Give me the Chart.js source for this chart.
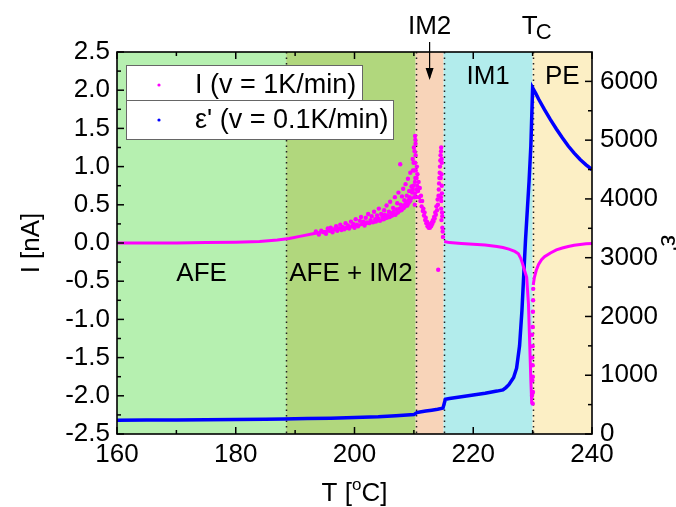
<!DOCTYPE html>
<html>
<head>
<meta charset="utf-8">
<script src="https://cdn.jsdelivr.net/npm/chart.js@4"></script>
<style>
  html, body { margin: 0; padding: 0; background: #fff; }
</style>
</head>
<body>
<canvas id="chart" width="676" height="507"></canvas>
<script>
// axis ticks
var tempTicks = [160, 180, 200, 220, 240];
var currentTicks = [-2.5, -2.0, -1.5, -1.0, -0.5, 0.0, 0.5, 1.0, 1.5, 2.0, 2.5];
var epsTicks = [0, 1000, 2000, 3000, 4000, 5000, 6000];

// phase regions (temperature boundaries) and names
var regionEdges = [160, 188.5, 210.3, 215, 230, 240];
var regionNames = ['AFE', 'AFE + IM2', 'IM2', 'IM1', 'PE'];

var seriesLabels = ['I (v = 1K/min)', "\u03b5' (v = 0.1K/min)"];

// dielectric permittivity eps' (right axis)
var epsT = [160, 165, 170, 175, 180, 185, 188, 192, 196, 200, 204, 207, 210, 210.5, 211, 212, 213, 214, 214.9, 215.3, 216, 218, 220, 222, 224, 225, 225.5, 226, 226.8, 227.3, 227.8, 228.2, 228.5, 228.8, 229.1, 229.4, 229.7, 230, 230.5, 231, 232, 233, 234, 235, 236, 237, 238, 239, 240];
var epsV = [235, 237, 240, 243, 247, 252, 256, 262, 270, 280, 292, 310, 330, 365, 375, 390, 405, 420, 440, 590, 605, 635, 665, 695, 730, 750, 790, 840, 960, 1120, 1500, 2100, 2700, 3300, 3800, 4300, 4900, 5890, 5800, 5700, 5520, 5350, 5190, 5040, 4900, 4780, 4670, 4580, 4500];

// pyroelectric current I, smooth part (null = gap)
var iT = [160, 170, 175, 180, 184, 187, 189, 191, 193, 195, 197, 199, 201, 203, 205, 206, 207, 208, 209, 209.6, 209.7,
          215.1, 216, 218, 220, 222, 224, 225, 226, 227, 227.6, 228, 228.3, 228.6, 229.0, 229.3, 229.5, 229.7, 229.85, 229.9,
          230.1, 230.3, 230.6, 231, 231.5, 232, 233, 234, 235, 236, 237, 238, 239, 240];
var iV = [0.0, 0.0, 0.005, 0.01, 0.02, 0.04, 0.06, 0.09, 0.12, 0.15, 0.18, 0.21, 0.24, 0.27, 0.31, 0.34, 0.38, 0.43, 0.5, 0.56, null,
          0.02, 0.005, -0.005, -0.015, -0.025, -0.045, -0.06, -0.08, -0.11, -0.14, -0.2, -0.27, -0.35, -0.45, -0.8, -1.3, -1.8, -2.1, null,
          -0.55, -0.45, -0.36, -0.28, -0.22, -0.18, -0.13, -0.09, -0.065, -0.045, -0.03, -0.02, -0.01, -0.005];

// pyroelectric current I, scattered points (noisy region and the dip at Tc)
var iScatT = [193.5, 194.0, 194.4, 194.8, 195.2, 195.5, 195.8, 196.0, 196.3, 196.6, 196.9, 197.1, 197.4, 197.6, 197.8, 198.0, 198.3, 198.5, 198.7, 198.9,
              199.1, 199.4, 199.6, 199.8, 200.0, 200.2, 200.4, 200.6, 200.9, 201.1, 201.3, 201.5, 201.7, 201.9, 202.1, 202.3, 202.5, 202.7, 202.9, 203.1,
              203.3, 203.5, 203.6, 203.8, 204.0, 204.1, 204.3, 204.5, 204.7, 204.9, 205.0, 205.1, 205.3, 205.4, 205.6, 205.8, 205.9, 206.0, 206.2, 206.3,
              206.5, 206.6, 206.8, 206.9, 207.1, 207.2, 207.3, 207.4, 207.6, 207.7, 207.8, 207.9, 208.0, 208.1, 208.2, 208.3, 208.4, 208.5, 208.6, 208.7,
              208.8, 208.9, 209.0, 209.1, 209.2, 209.3, 209.4, 209.5, 209.6, 209.7, 209.75, 209.8, 209.85, 209.9, 209.95, 210.0, 210.05, 210.1, 210.12, 210.15,
              210.18, 210.2, 210.2, 210.22, 210.24, 210.25, 210.28, 210.3, 210.32, 210.35, 210.4, 210.45, 210.5, 210.55, 210.6, 210.7, 210.8, 210.9, 211.0, 211.1,
              211.2, 211.3, 211.4, 211.5, 211.6, 211.7, 211.8, 211.9, 212.0, 212.1, 212.2, 212.3, 212.4, 212.5, 212.6, 212.7, 212.8, 212.9, 213.0, 213.1,
              213.2, 213.3, 213.4, 213.5, 213.6, 213.7, 213.8, 213.9, 214.0, 214.05, 214.1, 214.15, 214.2, 214.25, 214.3, 214.35, 214.4, 214.45, 214.5, 214.52,
              214.55, 214.58, 214.6, 214.6, 214.62, 214.65, 214.65, 214.68, 214.7, 214.7, 214.72, 214.75, 214.78, 214.8, 214.85, 214.9,
              229.9, 229.9, 229.95, 229.95, 230.0, 230.0, 230.0, 230.02, 230.03, 230.05, 230.05, 230.08, 230.1];
var iScatV = [0.15, 0.11, 0.16, 0.14, 0.12, 0.19, 0.16, 0.2, 0.14, 0.18, 0.22, 0.16, 0.19, 0.24, 0.17, 0.21, 0.18, 0.26, 0.2, 0.23,
              0.19, 0.28, 0.22, 0.25, 0.2, 0.31, 0.24, 0.22, 0.29, 0.34, 0.25, 0.28, 0.23, 0.33, 0.27, 0.38, 0.26, 0.3, 0.35, 0.27,
              0.41, 0.31, 0.28, 0.36, 0.32, 0.45, 0.29, 0.38, 0.34, 0.31, 0.43, 0.37, 0.33, 0.49, 0.36, 0.41, 0.34, 0.54, 0.39, 0.36,
              0.46, 0.41, 0.6, 0.37, 0.44, 0.52, 0.4, 0.66, 0.45, 1.03, 0.5, 0.43, 0.61, 0.48, 0.71, 0.46, 0.56, 0.5, 0.77, 0.53,
              0.62, 0.49, 0.84, 0.56, 0.68, 0.6, 0.92, 0.58, 0.74, 0.66, 0.7, 1.1, 0.95, 0.75, 1.05, 1.25, 0.6, 0.95, 1.2, 0.5,
              0.8, 1.4, 0.65, 1.05, 1.35, 0.85, 1.3, 1.15, 0.95, 0.6, 0.7, 0.85, 1.0, 0.75, 0.9, 0.68, 0.8, 0.6, 0.72, 0.55,
              0.62, 0.48, 0.55, 0.42, 0.45, 0.36, 0.4, 0.3, 0.33, 0.26, 0.28, 0.22, 0.25, 0.2, 0.22, 0.2, 0.24, 0.22, 0.27, 0.25,
              0.3, 0.28, 0.34, 0.32, 0.4, 0.37, 0.48, 0.43, 0.57, 0.5, -0.35, 0.62, 0.7, 0.78, 0.85, 0.92, 1.0, 1.08, 1.15, 0.85,
              0.6, 1.2, 1.25, 0.45, 0.55, 0.9, 0.3, 1.1, 0.75, 1.05, 0.65, 0.4, 0.35, 0.2, 0.15, 0.08,
              -2.0, -1.2, -1.8, -1.5, -1.6, -1.35, -2.1, -1.1, -1.75, -0.9, -1.95, -0.75, -0.6];

function pairs(xs, ys) {
    return xs.map(function (x, i) { return { x: x, y: ys[i] }; });
}

Chart.defaults.font.family = "'Liberation Sans', Arial, sans-serif";
Chart.defaults.font.size = 26;
Chart.defaults.color = '#000';

var PINK = '#ff00ff';
var BLUE = '#0000ff';

// backgrounds, phase lines, labels, frame, ticks and legend
var decor = {
    id: 'decor',
    beforeDatasetsDraw: function (chart) {
        var ctx = chart.ctx, a = chart.chartArea, xs = chart.scales.x, ys = chart.scales.y;
        var fills = ['#b6f0b0', '#b1d77d', '#f8d4b9', '#b2ecec', '#fcefc5'];
        ctx.save();
        for (var i = 0; i < regionNames.length; i++) {
            var x0 = xs.getPixelForValue(regionEdges[i]);
            var x1 = xs.getPixelForValue(regionEdges[i + 1]);
            ctx.fillStyle = fills[i];
            ctx.fillRect(x0, a.top, x1 - x0, a.bottom - a.top);
        }
        ctx.strokeStyle = '#222';
        ctx.lineWidth = 1.5;
        ctx.setLineDash([1.5, 4]);
        for (var j = 1; j < regionEdges.length - 1; j++) {
            var px = Math.round(xs.getPixelForValue(regionEdges[j])) + 0.5;
            ctx.beginPath();
            ctx.moveTo(px, a.top);
            ctx.lineTo(px, a.bottom);
            ctx.stroke();
        }
        ctx.setLineDash([]);

        ctx.fillStyle = '#000';
        ctx.font = "26px 'Liberation Sans', Arial, sans-serif";
        ctx.textAlign = 'center';
        ctx.textBaseline = 'middle';
        function mid(k) { return xs.getPixelForValue((regionEdges[k] + regionEdges[k + 1]) / 2); }
        ctx.fillText(regionNames[0], mid(0), ys.getPixelForValue(-0.4));
        ctx.fillText(regionNames[1], mid(1), ys.getPixelForValue(-0.4));
        ctx.fillText(regionNames[3], mid(3), ys.getPixelForValue(2.17));
        ctx.fillText(regionNames[4], mid(4), ys.getPixelForValue(2.17));
        ctx.restore();
    },
    afterDraw: function (chart) {
        var ctx = chart.ctx, a = chart.chartArea;
        var xs = chart.scales.x, ys = chart.scales.y, ys1 = chart.scales.y1;
        ctx.save();
        ctx.strokeStyle = '#000';
        ctx.lineWidth = 1.5;
        function seg(x0, y0, x1, y1) {
            ctx.beginPath(); ctx.moveTo(x0, y0); ctx.lineTo(x1, y1); ctx.stroke();
        }
        // x ticks, bottom and top
        tempTicks.forEach(function (v, i) {
            var px = xs.getPixelForValue(v);
            seg(px, a.bottom, px, a.bottom - 7);
            seg(px, a.top, px, a.top + 7);
            if (i < tempTicks.length - 1) {
                var pm = xs.getPixelForValue((v + tempTicks[i + 1]) / 2);
                seg(pm, a.bottom, pm, a.bottom - 4);
                seg(pm, a.top, pm, a.top + 4);
            }
        });
        currentTicks.forEach(function (v, i) {
            var py = ys.getPixelForValue(v);
            seg(a.left, py, a.left + 7, py);
            if (i < currentTicks.length - 1) {
                var pm = ys.getPixelForValue((v + currentTicks[i + 1]) / 2);
                seg(a.left, pm, a.left + 4, pm);
            }
        });
        epsTicks.forEach(function (v, i) {
            var py = ys1.getPixelForValue(v);
            seg(a.right, py, a.right - 7, py);
            if (i < epsTicks.length - 1) {
                var pm = ys1.getPixelForValue((v + epsTicks[i + 1]) / 2);
                seg(a.right, pm, a.right - 4, pm);
            }
        });
        ctx.lineWidth = 1.6;
        ctx.strokeRect(a.left, a.top, a.right - a.left, a.bottom - a.top);

        // labels above the frame
        ctx.fillStyle = '#000';
        ctx.textBaseline = 'alphabetic';
        ctx.textAlign = 'center';
        ctx.font = "26px 'Liberation Sans', Arial, sans-serif";
        var im2x = xs.getPixelForValue((regionEdges[2] + regionEdges[3]) / 2);
        ctx.fillText(regionNames[2], im2x, 34);
        ctx.lineWidth = 1.2;
        seg(im2x, 42, im2x, 78);
        ctx.beginPath();
        ctx.moveTo(im2x - 4, 68);
        ctx.lineTo(im2x, 80);
        ctx.lineTo(im2x + 4, 68);
        ctx.fill();

        var tcx = xs.getPixelForValue(regionEdges[4]);
        ctx.textAlign = 'left';
        ctx.fillText('T', tcx - 11, 34);
        ctx.font = "22px 'Liberation Sans', Arial, sans-serif";
        ctx.fillText('C', tcx + 3, 39);

        // x axis title with superscript o
        var big = "26px 'Liberation Sans', Arial, sans-serif";
        var small = "17px 'Liberation Sans', Arial, sans-serif";
        ctx.font = big;
        var w1 = ctx.measureText('T [').width, w3 = ctx.measureText('C]').width;
        ctx.font = small;
        var w2 = ctx.measureText('o').width;
        var tx = (a.left + a.right) / 2 - (w1 + w2 + w3) / 2;
        ctx.font = big;
        ctx.fillText('T [', tx, 501);
        ctx.font = small;
        ctx.fillText('o', tx + w1, 490);
        ctx.font = big;
        ctx.fillText('C]', tx + w1 + w2, 501);

        // legend
        ctx.fillStyle = '#fff';
        ctx.strokeStyle = '#666';
        ctx.lineWidth = 1;
        ctx.fillRect(126.5, 65.5, 236, 35);
        ctx.strokeRect(126.5, 65.5, 236, 35);
        ctx.fillRect(126.5, 100.5, 267, 39);
        ctx.strokeRect(126.5, 100.5, 267, 39);
        ctx.fillStyle = PINK;
        ctx.beginPath(); ctx.arc(159, 85, 1.6, 0, Math.PI * 2); ctx.fill();
        ctx.fillStyle = BLUE;
        ctx.beginPath(); ctx.arc(159, 120, 1.6, 0, Math.PI * 2); ctx.fill();
        ctx.fillStyle = '#000';
        ctx.font = "27px 'Liberation Sans', Arial, sans-serif";
        ctx.textBaseline = 'middle';
        ctx.fillText(seriesLabels[0], 195, 86);
        ctx.fillText(seriesLabels[1], 195, 121);
        ctx.restore();
    }
};

var ctx = document.getElementById('chart').getContext('2d');

var chart = new Chart(ctx, {
    type: 'scatter',
    data: {
        datasets: [{
            label: seriesLabels[0],
            data: pairs(iScatT, iScatV),
            showLine: false,
            pointRadius: 2.2,
            pointBorderWidth: 0,
            backgroundColor: PINK,
            yAxisID: 'y'
        }, {
            label: seriesLabels[0],
            data: pairs(iT, iV),
            showLine: true,
            spanGaps: false,
            pointRadius: 0,
            borderColor: PINK,
            borderWidth: 3,
            yAxisID: 'y'
        }, {
            label: seriesLabels[1],
            data: pairs(epsT, epsV),
            showLine: true,
            pointRadius: 0,
            borderColor: BLUE,
            borderWidth: 3.5,
            yAxisID: 'y1'
        }]
    },
    options: {
        responsive: false,
        animation: false,
        layout: { padding: { top: 52, left: 0, right: 0, bottom: 0 } },
        plugins: {
            legend: { display: false },
            tooltip: { enabled: false }
        },
        scales: {
            x: {
                type: 'linear',
                min: 160, max: 240,
                grid: { display: false, drawTicks: false },
                border: { display: false },
                ticks: { padding: 5, maxRotation: 0, callback: function (v) { return String(v); } },
                afterBuildTicks: function (s) { s.ticks = tempTicks.map(function (v) { return { value: v }; }); },
                afterFit: function (s) { s.height = 73; }
            },
            y: {
                position: 'left',
                min: -2.5, max: 2.5,
                grid: { display: false, drawTicks: false },
                border: { display: false },
                ticks: { padding: 7, callback: function (v) { return Number(v).toFixed(1); } },
                afterBuildTicks: function (s) { s.ticks = currentTicks.map(function (v) { return { value: v }; }); },
                title: { display: true, text: 'I [nA]', padding: { top: 16, bottom: 0 } },
                afterFit: function (s) { s.width = 117; }
            },
            y1: {
                position: 'right',
                min: 0, max: 6500,
                grid: { display: false, drawTicks: false },
                border: { display: false },
                ticks: { padding: 8, callback: function (v) { return String(v); } },
                afterBuildTicks: function (s) { s.ticks = epsTicks.map(function (v) { return { value: v }; }); },
                title: { display: true, text: "\u03b5'", padding: { top: -8, bottom: 0 } },
                afterFit: function (s) { s.width = 84; }
            }
        }
    },
    plugins: [decor]
});
</script>
</body>
</html>
